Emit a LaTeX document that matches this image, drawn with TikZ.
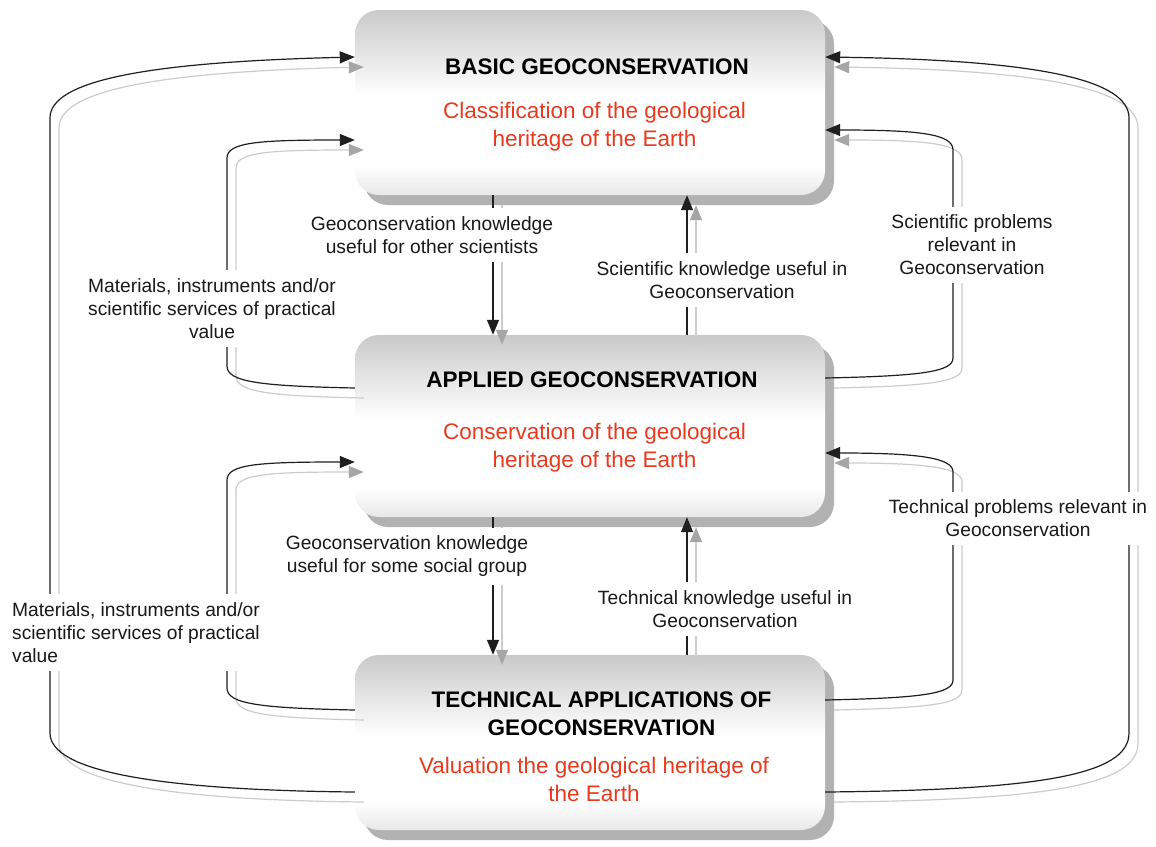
\documentclass[tikz,border=0pt]{standalone}
\usepackage{fontspec}
\setmainfont{Liberation Sans}
\usetikzlibrary{arrows.meta,shadows,calc}
\definecolor{redtxt}{RGB}{232,58,30}
\pgfdeclareverticalshading{boxshade}{100bp}{color(0bp)=(black!9); color(25bp)=(black!9); color(33bp)=(white); color(52bp)=(white); color(75bp)=(black!21); color(100bp)=(black!21)}
\newcommand\pA{($(b3.west)+(0,49.5)$) .. controls (150,790) and (50,770) .. (50,733) -- (50,118) .. controls (50,80) and (150,62) .. ($(b1.west)+(0,-45.5)$)}
\newcommand\pB{($(b2.west)+(0,-38)$) .. controls (260,386) and (227,382) .. (227,366) -- (227,158) .. controls (227,142) and (260,140) .. ($(b1.west)+(0,37.5)$)}
\newcommand\pC{($(b3.west)+(0,-32.5)$) .. controls (260,708) and (227,704) .. (227,688) -- (227,480) .. controls (227,464) and (260,462) .. ($(b2.west)+(0,36)$)}
\newcommand\pD{($(b2.east)+(0,-48)$) .. controls (920,376) and (953,372) .. (953,358) -- (953,150) .. controls (953,134) and (920,130) .. ($(b1.east)+(0,27.5)$)}
\newcommand\pE{($(b3.east)+(0,49.5)$) .. controls (1040,790) and (1129,775) .. (1129,733) -- (1129,118) .. controls (1129,80) and (1040,60) .. ($(b1.east)+(0,-45.5)$)}
\newcommand\pF{($(b3.east)+(0,-42.5)$) .. controls (920,698) and (953,694) .. (953,680) -- (953,472) .. controls (953,458) and (920,453) .. ($(b2.east)+(0,27)$)}
\newcommand\pG{($(b1.south)+(-97,0)$) -- ($(b2.north)+(-97,0)$)}
\newcommand\pH{($(b2.north)+(97,0)$) -- ($(b1.south)+(97,0)$)}
\newcommand\pI{($(b2.south)+(-97,0)$) -- ($(b3.north)+(-97,0)$)}
\newcommand\pJ{($(b3.north)+(97,0)$) -- ($(b2.south)+(97,0)$)}
\begin{document}
\begin{tikzpicture}[x=1pt,y=-1pt,
  box/.style={shade, shading=boxshade, rounded corners=24pt, minimum width=470pt, inner sep=0pt,
    drop shadow={shadow xshift=9pt, shadow yshift=-10pt, fill=black!30, opacity=1}},
  ttl/.style={font=\bfseries\fontsize{22.5}{28}\selectfont, align=center, inner sep=0pt, text=black},
  sub/.style={font=\fontsize{22.5}{28}\selectfont, align=center, inner sep=0pt, text=redtxt},
  lbl/.style={font=\fontsize{19.2}{23}\selectfont, align=center, fill=white, inner xsep=3pt, inner ysep=8pt, text=black!90},
  mainline/.style={draw=black!88, line width=1.2pt, -{Triangle[length=15pt,width=12pt]}},
  shline/.style={draw=black!20, line width=1.2pt, -{Triangle[length=15pt,width=12pt,color=black!35]}}]
\fill[white] (0,0) rectangle (1156,846);
\path[use as bounding box] (0,0) rectangle (1156,846);
% boxes
\node[box, minimum height=185pt] (b1) at (590,102.5) {};
\node[box, minimum height=182pt] (b2) at (590,426) {};
\node[box, minimum height=175pt] (b3) at (590,742.5) {};
% box texts
\node[ttl] (t1) at (597,67) {BASIC GEOCONSERVATION};
\node[sub] (r1) at (594.5,126.5) {Classification of the geological\\heritage of the Earth};
\node[ttl] (t2) at (592,380) {APPLIED GEOCONSERVATION};
\node[sub] (r2) at (594.5,447.5) {Conservation of the geological\\heritage of the Earth};
\node[ttl] (t3) at (601.5,714) {TECHNICAL APPLICATIONS OF\\GEOCONSERVATION};
\node[sub] (r3) at (594,779) {Valuation the geological heritage of\\the Earth};
% shadow connectors
\begin{scope}[transform canvas={xshift=9pt,yshift=-10pt}]
  \draw[shline] \pA;
  \draw[shline] \pB;
  \draw[shline] \pC;
  \draw[shline] \pD;
  \draw[shline] \pE;
  \draw[shline] \pF;
  \draw[shline] \pG;
  \draw[shline] \pH;
  \draw[shline] \pI;
  \draw[shline] \pJ;
\end{scope}
% connectors
\draw[mainline] \pA;
\draw[mainline] \pB;
\draw[mainline] \pC;
\draw[mainline] \pD;
\draw[mainline] \pE;
\draw[mainline] \pF;
\draw[mainline] \pG;
\draw[mainline] \pH;
\draw[mainline] \pI;
\draw[mainline] \pJ;
% labels
\node[lbl] (l1) at (212,308.5) {Materials, instruments and/or\\scientific services of practical\\value};
\node[lbl, align=left, anchor=west] (l2) at (9,632.5) {Materials, instruments and/or\\scientific services of practical\\value};
\node[lbl] (l3) at (432,235) {Geoconservation knowledge\\useful for other scientists};
\node[lbl] (l4) at (722,280) {Scientific knowledge useful in\\Geoconservation};
\node[lbl] (l5) at (972,245) {Scientific problems\\relevant in\\Geoconservation};
\node[lbl] (l6) at (1018,518.5) {Technical problems relevant in\\Geoconservation};
\node[lbl] (l7) at (407,556.5) {Geoconservation knowledge\\useful for some social group};
\node[lbl] (l8) at (725,609) {Technical knowledge useful in\\Geoconservation};
\end{tikzpicture}
\end{document}
